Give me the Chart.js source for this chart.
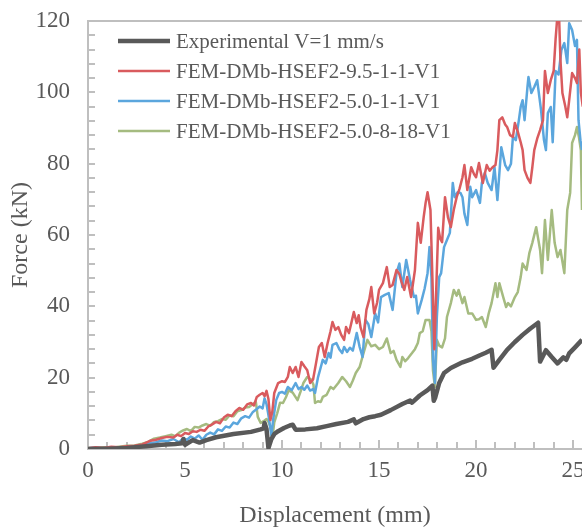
<!DOCTYPE html>
<html>
<head>
<meta charset="utf-8">
<script src="https://cdn.jsdelivr.net/npm/chart.js@4.4.0/dist/chart.umd.min.js"></script>
<style>
html,body{margin:0;padding:0;background:#fff;overflow:hidden;}
#wrap{width:582px;height:527px;position:relative;}
</style>
</head>
<body>
<div id="wrap"><canvas id="c" width="582" height="527"></canvas></div>
<script>
// ---- Data (Displacement mm, Force kN) ----
const seriesNames = [
  'Experimental V=1 mm/s',
  'FEM-DMb-HSEF2-9.5-1-1-V1',
  'FEM-DMb-HSEF2-5.0-1-1-V1',
  'FEM-DMb-HSEF2-5.0-8-18-V1'
];
const seriesColors = ['#595959', '#d95b5e', '#5ba6dd', '#a5bb80'];

const expData = [[0,0],[1,0.1],[2,0.3],[3,0.8],[3.8,1.2],[4.5,1.4],[4.85,1.6],[4.92,2.8],[5.0,1.2],[5.4,2.5],[5.75,1.8],[6.1,2.5],[6.6,3.3],[7.5,4.2],[8.4,4.8],[8.9,5.5],[9.05,5.8],[9.1,7.3],[9.2,5.6],[9.3,0.3],[9.45,2.8],[9.6,4.2],[9.8,5],[10.1,5.9],[10.4,6.6],[10.55,6.8],[10.7,5.4],[11.2,5.5],[11.8,5.8],[12.3,6.4],[12.8,7.0],[13.4,7.6],[13.7,8.3],[13.8,7.2],[14.2,8.4],[14.5,8.9],[14.8,9.2],[15.1,9.6],[15.6,10.9],[16.2,12.6],[16.6,13.6],[16.7,13.0],[17.1,15.0],[17.5,16.5],[17.75,17.8],[17.82,13.5],[17.9,14.5],[18.1,18.5],[18.35,21.3],[18.7,22.7],[19.3,24.3],[19.8,25.3],[20.2,26.3],[20.5,27],[20.8,27.8],[20.9,22.8],[21.2,25],[21.6,27.8],[22,30],[22.4,32],[22.8,33.8],[23.2,35.4],[23.3,24.5],[23.6,27.7],[23.9,25.8],[24.2,24],[24.5,25.7],[24.65,25],[24.8,26.8],[25.1,28.5],[25.46,30.6],[25.6,31.5]];

const fem95Data = [[0,0.2],[0.4,0.5],[0.8,0.3],[1.2,0.6],[1.6,0.5],[2.0,0.8],[2.4,0.9],[2.8,1.3],[3.2,2.3],[3.5,2.6],[3.8,3.1],[4.1,3.4],[4.4,3.2],[4.6,4.0],[4.8,3.6],[5.0,4.5],[5.2,4.2],[5.4,5.0],[5.6,4.8],[5.8,5.4],[6.0,5.1],[6.2,6.3],[6.4,6.9],[6.6,7.6],[6.8,7.2],[7.0,8.8],[7.2,9.6],[7.4,9.2],[7.6,10.6],[7.8,11.5],[8.0,11.0],[8.2,12.5],[8.4,12.9],[8.55,12.2],[8.7,14.6],[8.85,15.2],[9.0,15.7],[9.1,14.8],[9.2,16.3],[9.3,14.0],[9.4,8.1],[9.5,10.5],[9.6,15.7],[9.8,18.5],[10.0,19.0],[10.15,18.8],[10.3,20.2],[10.4,23],[10.55,21.3],[10.7,23],[10.85,20.2],[11.0,24.4],[11.15,23.2],[11.3,22.1],[11.45,18.5],[11.6,19.5],[11.75,24],[11.9,28.6],[12.05,29.7],[12.2,25.8],[12.35,29.7],[12.5,33],[12.6,35.6],[12.75,33.4],[12.9,34.2],[13.05,32],[13.2,30.6],[13.3,34.2],[13.45,32.5],[13.6,36],[13.7,38.4],[13.85,35.3],[13.95,37.5],[14.05,34],[14.2,31.4],[14.35,39],[14.5,42],[14.6,45.4],[14.75,38],[14.9,41],[15.0,44.6],[15.2,46.5],[15.4,51],[15.55,45.4],[15.7,46],[15.9,50.2],[16.05,49],[16.15,47],[16.3,44.6],[16.45,48.2],[16.65,42.6],[16.85,50.2],[17.0,63.4],[17.15,57.8],[17.3,65],[17.4,69],[17.5,72],[17.65,67],[17.75,48],[17.85,28],[17.95,45],[18.05,62],[18.15,59],[18.25,58],[18.4,70.6],[18.55,65],[18.7,62.2],[18.85,67],[19.0,70.6],[19.15,73],[19.3,76.2],[19.4,79.6],[19.55,72.6],[19.75,79],[19.9,77],[20.0,76.2],[20.15,80.2],[20.35,74.6],[20.55,79.6],[20.7,78],[20.85,79],[21.0,79.6],[21.1,83.8],[21.2,92.2],[21.35,93],[21.5,91],[21.6,90.3],[21.75,88],[21.9,87.5],[22.0,91.4],[22.15,89],[22.3,86],[22.4,83.8],[22.5,78.2],[22.65,76],[22.8,74.6],[22.9,79],[23.0,83.8],[23.15,87],[23.3,89.4],[23.45,92.2],[23.55,106],[23.7,99.8],[23.85,103.4],[24.0,106],[24.1,115],[24.2,122],[24.28,121],[24.35,109],[24.45,99.8],[24.6,96],[24.7,93],[24.8,97.8],[24.95,105.4],[25.1,104],[25.2,102.6],[25.32,112],[25.4,100],[25.5,96],[25.6,104]];

const fem50Data = [[0,0.2],[0.4,0.4],[0.8,0.2],[1.2,0.4],[1.6,0.3],[2.0,0.6],[2.4,0.7],[2.8,1.0],[3.2,1.6],[3.5,1.9],[3.8,2.4],[4.1,2.2],[4.4,2.8],[4.7,1.9],[4.9,3.0],[5.1,2.6],[5.3,3.5],[5.5,2.9],[5.7,3.8],[5.9,2.6],[6.1,4.0],[6.3,4.6],[6.5,4.1],[6.7,5.5],[6.9,5.1],[7.1,6.3],[7.3,6.0],[7.5,7.4],[7.7,7.0],[7.9,8.6],[8.1,9.2],[8.3,8.8],[8.5,10.4],[8.7,11.2],[8.85,11.9],[9.0,11.4],[9.1,14.2],[9.2,12.6],[9.3,9.5],[9.45,3.8],[9.55,8.5],[9.7,13.7],[9.85,15.7],[10.0,16.0],[10.15,15.5],[10.3,17.4],[10.5,16.5],[10.7,18.5],[10.85,16.8],[11.0,17.4],[11.15,16.6],[11.3,17.8],[11.45,16.4],[11.6,16.8],[11.7,15.7],[11.85,20],[12.0,23],[12.1,25],[12.25,24],[12.4,26.9],[12.5,25.6],[12.6,29.2],[12.8,29.7],[12.95,28],[13.1,26.9],[13.2,28.6],[13.35,27.2],[13.5,28.4],[13.65,27.6],[13.85,32.5],[14.0,28.6],[14.15,25.8],[14.3,36.2],[14.45,35],[14.6,31.4],[14.8,38],[14.95,35.5],[15.1,42.6],[15.3,43.2],[15.5,43.7],[15.7,39],[15.9,49.3],[16.05,52],[16.2,45.4],[16.4,53],[16.6,47.4],[16.8,42.6],[16.9,43],[17.0,38],[17.2,41.8],[17.35,45],[17.5,49.3],[17.6,56.6],[17.7,48.2],[17.78,25],[17.88,18.5],[17.98,37],[18.1,48.2],[18.2,49.3],[18.35,56.6],[18.5,58.6],[18.65,60.6],[18.8,74.6],[18.9,70.6],[19.05,72],[19.2,71.8],[19.3,70.6],[19.4,66],[19.55,62.8],[19.7,73.5],[19.8,70.6],[20.0,72.6],[20.2,69],[20.3,74.6],[20.45,77.4],[20.6,74.6],[20.8,72.6],[20.95,79],[21.1,69.8],[21.3,84.6],[21.5,79.6],[21.65,78.2],[21.8,80],[21.9,87.5],[22.05,86.6],[22.2,92],[22.3,95.9],[22.4,97.8],[22.5,92.2],[22.65,101.5],[22.7,104.3],[22.85,99.8],[23.0,101.5],[23.15,103.4],[23.35,95],[23.5,86.6],[23.6,83.8],[23.7,94.2],[23.85,95.9],[23.95,86],[24.1,106],[24.25,105],[24.4,111.9],[24.55,113.8],[24.7,108.2],[24.8,119.4],[24.95,117.5],[25.1,113],[25.2,114.7],[25.28,92.2],[25.38,86.6],[25.46,83.8],[25.6,82]];

const fem818Data = [[0,0.3],[0.4,0.2],[0.8,0.5],[1.2,0.3],[1.6,0.6],[2.0,0.9],[2.4,1.0],[2.8,1.5],[3.1,2.0],[3.4,2.9],[3.7,3.2],[4.0,3.6],[4.3,4.0],[4.5,3.6],[4.7,4.6],[4.9,5.2],[5.1,5.6],[5.3,5.0],[5.5,6.2],[5.7,6.0],[5.9,6.6],[6.1,7.0],[6.3,6.5],[6.5,7.6],[6.7,7.8],[6.9,8.4],[7.1,8.2],[7.3,9.5],[7.5,9.2],[7.7,10.6],[7.9,10.9],[8.1,11.6],[8.3,11.8],[8.5,12.6],[8.65,13.2],[8.75,9.0],[8.9,7.3],[9.05,7.8],[9.2,8.4],[9.3,7.6],[9.4,6.2],[9.5,3.0],[9.6,7.5],[9.75,10],[9.9,13.0],[10.05,12.9],[10.2,14.5],[10.35,16.5],[10.55,15.8],[10.8,13.7],[10.95,16],[11.1,18.5],[11.3,20.2],[11.5,19.5],[11.62,18],[11.7,12.9],[11.85,13.4],[12.0,13.2],[12.1,14.6],[12.3,15.2],[12.5,17.4],[12.65,16.8],[12.9,18.5],[13.1,20.2],[13.3,19],[13.5,17.4],[13.65,19.2],[13.8,21.3],[14.0,23],[14.2,26.9],[14.4,30.6],[14.6,28.8],[14.8,29.2],[15.0,28],[15.2,28.6],[15.4,31],[15.6,26.9],[15.75,27.5],[15.9,25],[16.1,23],[16.2,25.8],[16.35,24.6],[16.5,25.5],[16.7,26.9],[16.85,28],[17.0,29.7],[17.1,32.5],[17.25,33],[17.4,36.2],[17.6,36.2],[17.7,33],[17.78,22],[17.88,17.4],[17.98,30.6],[18.1,29],[18.25,28.5],[18.4,31],[18.5,37],[18.7,40.9],[18.85,44.6],[19.0,43],[19.1,44.6],[19.3,40.9],[19.4,42.6],[19.6,38],[19.8,38],[20.0,36.2],[20.15,36.4],[20.3,37],[20.5,34.2],[20.65,38],[20.8,40.9],[21.0,46.5],[21.1,42.6],[21.2,46.5],[21.4,42.6],[21.55,39.8],[21.65,40.9],[21.8,40],[22.0,42.6],[22.15,44],[22.3,48.2],[22.4,52],[22.6,50.2],[22.75,55],[22.9,57.8],[23.1,62.2],[23.3,55.8],[23.4,49.3],[23.55,64.2],[23.7,53],[23.9,67],[24.05,57.8],[24.2,53.8],[24.35,55.8],[24.55,49.3],[24.7,67],[24.85,71.8],[24.95,85.8],[25.1,88],[25.2,90.3],[25.3,87.5],[25.4,83.8],[25.46,67],[25.6,62]];

const allData = [expData, fem95Data, fem50Data, fem818Data];
const lineWidths = [4.5, 2.5, 2.5, 2.5];

const xMin = 0, xMax = 25.46, xStep = 5, xMinorStep = 1;
const yMin = 0, yMax = 120, yStep = 20, yMinorStep = 4;

const FONT = "'Liberation Serif', 'Times New Roman', serif";
const TXT = '#595959';
const AXC = '#bfbfbf';

const datasets = allData.map((d, i) => ({
  label: seriesNames[i],
  data: d.map(p => ({x: p[0], y: p[1]})),
  borderColor: seriesColors[i],
  backgroundColor: seriesColors[i],
  borderWidth: lineWidths[i],
  pointRadius: 0,
  tension: 0,
  fill: false,
  clip: 0,
  borderJoinStyle: 'round'
}));

const decoPlugin = {
  id: 'deco',
  beforeDatasetsDraw(chart) {
    const {ctx, chartArea: a} = chart;
    const xs = chart.scales.x, ys = chart.scales.y;
    ctx.save();
    ctx.strokeStyle = AXC;
    ctx.lineWidth = 2;
    ctx.beginPath();
    for (let k = 0; xMin + k * xMinorStep <= xMax + 1e-9; k++) {
      const v = xMin + k * xMinorStep;
      const px = Math.round(xs.getPixelForValue(v));
      const len = (k % 5 === 0) ? 9 : 7;
      ctx.moveTo(px, a.bottom); ctx.lineTo(px, a.bottom - len);
    }
    for (let k = 0; yMin + k * yMinorStep <= yMax + 1e-9; k++) {
      const v = yMin + k * yMinorStep;
      const py = Math.round(ys.getPixelForValue(v));
      ctx.moveTo(a.left, py); ctx.lineTo(a.left + 7, py);
    }
    ctx.moveTo(a.left - 1, a.top); ctx.lineTo(a.right + 2, a.top);
    ctx.stroke();
    ctx.restore();
  },
  afterDraw(chart) {
    const {ctx} = chart;
    ctx.save();
    ctx.font = "21px " + FONT;
    ctx.textBaseline = 'middle';
    ctx.textAlign = 'left';
    seriesNames.forEach((n, i) => {
      const yy = 41 + i * 30;
      ctx.strokeStyle = seriesColors[i];
      ctx.lineWidth = lineWidths[i];
      ctx.beginPath();
      ctx.moveTo(118, yy); ctx.lineTo(170, yy);
      ctx.stroke();
      ctx.fillStyle = TXT;
      ctx.fillText(n, 176, yy + 1);
    });
    ctx.restore();
  }
};

new Chart(document.getElementById('c'), {
  type: 'line',
  data: { datasets },
  options: {
    responsive: false,
    animation: false,
    devicePixelRatio: 1,
    layout: { padding: { top: 21, right: 0, left: 0, bottom: 0 } },
    plugins: { legend: { display: false }, tooltip: { enabled: false } },
    scales: {
      x: {
        type: 'linear', min: xMin, max: xMax,
        grid: { display: false, drawTicks: false },
        border: { display: true, color: AXC, width: 2 },
        ticks: { stepSize: xStep, includeBounds: false, padding: 8, color: TXT, font: { family: FONT, size: 23 }, maxRotation: 0 },
        title: { display: true, text: 'Displacement (mm)', color: TXT, font: { family: FONT, size: 24 }, padding: { top: 0, bottom: -3 } },
        afterFit(s) { s.height = 78; s.paddingLeft = 0; s.paddingRight = 0; }
      },
      y: {
        type: 'linear', min: yMin, max: yMax,
        grid: { display: false, drawTicks: false },
        border: { display: true, color: AXC, width: 2 },
        ticks: { stepSize: yStep, padding: 18, color: TXT, font: { family: FONT, size: 23 } },
        title: { display: true, text: 'Force (kN)', color: TXT, font: { family: FONT, size: 24 }, padding: { top: 6, bottom: 0 } },
        afterFit(s) { s.width = 88; s.paddingTop = 0; s.paddingBottom = 0; }
      }
    }
  },
  plugins: [decoPlugin]
});
</script>
</body>
</html>
